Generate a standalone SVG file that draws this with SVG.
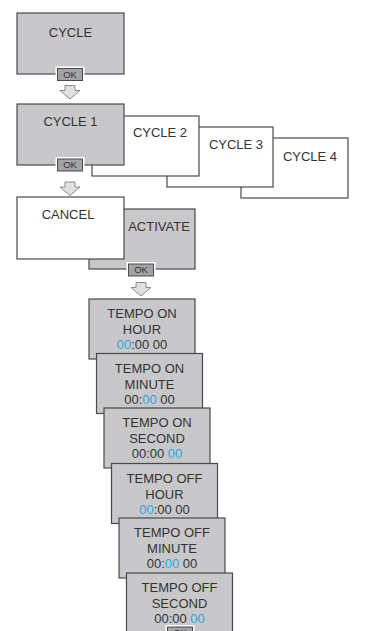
<svg xmlns="http://www.w3.org/2000/svg" width="387" height="631" viewBox="0 0 387 631">
<defs>
<style>
.g{fill:#c8c8ca;stroke:#4a4a4a;stroke-width:1.2}
.w{fill:#ffffff;stroke:#4a4a4a;stroke-width:1.2}
.t{font-family:"Liberation Sans",Arial,sans-serif;font-size:13px;fill:#333333;text-anchor:middle}
.b{fill:#29a8e0}
.okb{fill:#a3a3a5;stroke:#4a4a4a;stroke-width:1}
.okh{fill:none;stroke:#ffffff;stroke-width:2}
.okt{font-family:"Liberation Sans",Arial,sans-serif;font-size:9.5px;fill:#333333;text-anchor:middle}
.ar{fill:#e0e0e0;stroke:#8a8a8a;stroke-width:1}
</style>
<g id="ok">
<rect x="-13.5" y="-7" width="27" height="14" class="okh"/>
<rect x="-12.5" y="-6" width="25" height="12" class="okb"/>
<text x="0" y="3.4" class="okt">OK</text>
</g>
<path id="arrow" d="M-5,0 H5 V5 H10 L0,13.5 L-10,5 H-5 Z" class="ar"/>
</defs>

<g id="cycle">
<rect x="17" y="13" width="107" height="61" class="g"/>
<text x="70.5" y="37" class="t">CYCLE</text>
<use href="#ok" x="70" y="74.5"/>
</g>

<g id="cycle4">
<rect x="241" y="138" width="107" height="60" class="w"/>
<text x="310" y="161" class="t">CYCLE 4</text>
</g>
<g id="cycle3">
<rect x="167" y="127" width="106" height="60" class="w"/>
<text x="236" y="149" class="t">CYCLE 3</text>
</g>
<g id="cycle2">
<rect x="92" y="116" width="107" height="60" class="w"/>
<text x="160" y="137" class="t">CYCLE 2</text>
</g>
<g id="cycle1">
<rect x="17" y="104" width="107" height="61" class="g"/>
<text x="70.5" y="126" class="t">CYCLE 1</text>
<use href="#ok" x="70" y="165"/>
</g>

<g id="activate">
<rect x="89" y="209" width="106" height="60" class="g"/>
<text x="159" y="231" class="t">ACTIVATE</text>
<use href="#ok" x="141" y="270"/>
</g>
<g id="cancel">
<rect x="17" y="197" width="107" height="62" class="w"/>
<text x="68" y="219" class="t">CANCEL</text>
</g>

<g id="tempo-on-hour">
<rect x="89" y="299" width="106" height="60" class="g"/>
<text x="142" y="318" class="t">TEMPO ON</text>
<text x="142" y="334" class="t">HOUR</text>
<text x="142" y="349" class="t"><tspan class="b">00</tspan>:00 00</text>
</g>
<g id="tempo-on-minute">
<rect x="96.5" y="353.5" width="106" height="60" class="g"/>
<text x="149.5" y="372.5" class="t">TEMPO ON</text>
<text x="149.5" y="388.5" class="t">MINUTE</text>
<text x="149.5" y="403.5" class="t">00:<tspan class="b">00</tspan> 00</text>
</g>
<g id="tempo-on-second">
<rect x="104" y="408" width="106" height="60" class="g"/>
<text x="157" y="427" class="t">TEMPO ON</text>
<text x="157" y="443" class="t">SECOND</text>
<text x="157" y="458" class="t">00:00 <tspan class="b">00</tspan></text>
</g>
<g id="tempo-off-hour">
<rect x="111.5" y="463.5" width="106" height="60" class="g"/>
<text x="164.5" y="482.5" class="t">TEMPO OFF</text>
<text x="164.5" y="498.5" class="t">HOUR</text>
<text x="164.5" y="513.5" class="t"><tspan class="b">00</tspan>:00 00</text>
</g>
<g id="tempo-off-minute">
<rect x="119" y="518" width="106" height="60" class="g"/>
<text x="172" y="537" class="t">TEMPO OFF</text>
<text x="172" y="553" class="t">MINUTE</text>
<text x="172" y="568" class="t">00:<tspan class="b">00</tspan> 00</text>
</g>
<g id="tempo-off-second">
<rect x="126.5" y="573" width="106" height="60" class="g"/>
<text x="179.5" y="592" class="t">TEMPO OFF</text>
<text x="179.5" y="608" class="t">SECOND</text>
<text x="179.5" y="623" class="t">00:00 <tspan class="b">00</tspan></text>
<use href="#ok" x="180" y="633"/>
</g>

<g id="connectors">
<use href="#arrow" x="70" y="85.5"/>
<use href="#arrow" x="70" y="182"/>
<use href="#arrow" x="141" y="282.5"/>
</g>
</svg>
